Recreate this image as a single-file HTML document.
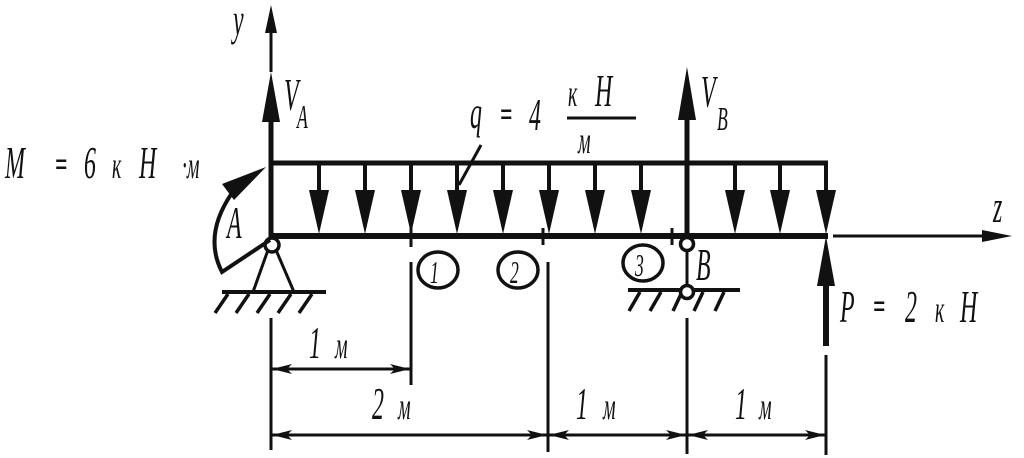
<!DOCTYPE html>
<html><head><meta charset="utf-8"><style>
html,body{margin:0;padding:0;background:#fff;}
svg{display:block;}
text{font-family:"Liberation Serif",serif;font-style:italic;fill:#111;}
</style></head><body>
<svg width="1024" height="458" viewBox="0 0 1024 458" xmlns="http://www.w3.org/2000/svg">
<defs>
<marker id="da" viewBox="0 0 20 10" refX="20" refY="5" markerWidth="20" markerHeight="10" markerUnits="userSpaceOnUse" orient="auto-start-reverse">
<path d="M0,0 L20,5 L0,10 L5,5 Z" fill="#111"/></marker>
</defs>
<g stroke="#111" fill="none">
<line x1="271" y1="28" x2="271" y2="72" stroke-width="3"/>
<polygon points="271,5 265,33 277,33" fill="#111" stroke="none"/>
<line x1="271" y1="110" x2="271" y2="240" stroke-width="5"/>
<polygon points="271,72 262,122 280,122" fill="#111" stroke="none"/>
<line x1="687" y1="110" x2="687" y2="240" stroke-width="5"/>
<polygon points="687,67 678,120 696,120" fill="#111" stroke="none"/>
<line x1="271" y1="163" x2="828" y2="163" stroke-width="5"/>
<line x1="826" y1="161" x2="826" y2="200" stroke-width="4"/>
<line x1="271" y1="236" x2="828" y2="236" stroke-width="6"/>
<line x1="411" y1="228" x2="411" y2="247" stroke-width="3"/>
<line x1="543" y1="228" x2="543" y2="245" stroke-width="3"/>
<line x1="672" y1="228" x2="672" y2="245" stroke-width="3"/>
<line x1="833" y1="236" x2="995" y2="236" stroke-width="3"/>
<polygon points="1012,236 982,230 982,242" fill="#111" stroke="none"/>
<line x1="826" y1="280" x2="826" y2="346" stroke-width="6"/>
<polygon points="826,236 817,286 835,286" fill="#111" stroke="none"/>
<line x1="268" y1="250" x2="253" y2="292" stroke-width="3"/>
<line x1="276" y1="250" x2="294" y2="292" stroke-width="3"/>
<line x1="222" y1="292" x2="326" y2="292" stroke-width="4"/>
<g stroke-width="3.5">
<line x1="228" y1="294" x2="215" y2="313"/><line x1="249" y1="294" x2="236" y2="313"/>
<line x1="270" y1="294" x2="257" y2="313"/><line x1="291" y1="294" x2="278" y2="313"/>
<line x1="312" y1="294" x2="299" y2="313"/>
</g>
<circle cx="272" cy="245" r="7" stroke-width="3.5" fill="#fff"/>
<line x1="687" y1="250" x2="687" y2="288" stroke-width="3"/>
<line x1="628" y1="290" x2="740" y2="290" stroke-width="4"/>
<g stroke-width="3.5">
<line x1="640" y1="292" x2="629" y2="311"/><line x1="661" y1="292" x2="650" y2="311"/>
<line x1="682" y1="292" x2="673" y2="311"/><line x1="703" y1="292" x2="694" y2="311"/>
<line x1="724" y1="292" x2="715" y2="311"/>
</g>
<circle cx="687" cy="244" r="6.5" stroke-width="3.5" fill="#fff"/>
<circle cx="687" cy="292" r="6.5" stroke-width="3.5" fill="#fff"/>
<path d="M270,240 L222,272 Q203,235 232,193" stroke-width="4"/>
<polygon points="266,167 222,184 234,200" fill="#111" stroke="none"/>
<line x1="481" y1="145" x2="459" y2="185" stroke-width="3"/>
<line x1="567" y1="118" x2="636" y2="118" stroke-width="3"/>
<ellipse cx="438" cy="270" rx="20" ry="18" stroke-width="3.5"/>
<ellipse cx="518" cy="270" rx="20" ry="18" stroke-width="3.5"/>
<ellipse cx="643" cy="263" rx="20" ry="18" stroke-width="3.5"/>
<g stroke-width="3">
<line x1="271" y1="318" x2="271" y2="450"/>
<line x1="411" y1="262" x2="411" y2="385"/>
<line x1="548" y1="262" x2="548" y2="452"/>
<line x1="687" y1="318" x2="687" y2="454"/>
<line x1="826" y1="355" x2="826" y2="455"/>
</g>
<g stroke-width="3">
<line x1="272" y1="369" x2="410" y2="369" marker-start="url(#da)" marker-end="url(#da)"/>
<line x1="272" y1="435" x2="547" y2="435" marker-start="url(#da)" marker-end="url(#da)"/>
<line x1="549" y1="435" x2="686" y2="435" marker-start="url(#da)" marker-end="url(#da)"/>
<line x1="688" y1="435" x2="825" y2="435" marker-start="url(#da)" marker-end="url(#da)"/>
</g>
</g>
<g fill="#111">
<g stroke="#111" stroke-width="4">
<line x1="319" y1="163" x2="319" y2="200"/><line x1="365" y1="163" x2="365" y2="200"/>
<line x1="411" y1="163" x2="411" y2="200"/><line x1="457" y1="163" x2="457" y2="200"/>
<line x1="503" y1="163" x2="503" y2="200"/><line x1="549" y1="163" x2="549" y2="200"/>
<line x1="595" y1="163" x2="595" y2="200"/><line x1="641" y1="163" x2="641" y2="200"/>
<line x1="735" y1="163" x2="735" y2="200"/><line x1="780" y1="163" x2="780" y2="200"/>
</g>
<polygon points="319,234 309,190 329,190"/><polygon points="365,234 355,190 375,190"/>
<polygon points="411,234 401,190 421,190"/><polygon points="457,234 447,190 467,190"/>
<polygon points="503,234 493,190 513,190"/><polygon points="549,234 539,190 559,190"/>
<polygon points="595,234 585,190 605,190"/><polygon points="641,234 631,190 651,190"/>
<polygon points="735,234 725,190 745,190"/><polygon points="780,234 770,190 790,190"/>
<polygon points="826,234 816,190 836,190"/>
</g>
<g font-size="46">
<text transform="translate(5,178) scale(0.52,1)">M</text>
<text transform="translate(55,176) scale(0.6,1)" font-style="normal" font-weight="bold" font-size="36">=</text>
<text transform="translate(84,178) scale(0.52,1)">6</text>
<text transform="translate(112,178) scale(0.52,1)" font-size="38">к</text>
<text transform="translate(139,178) scale(0.52,1)">Н</text>
<text transform="translate(182,178) scale(0.52,1)" font-size="38">·м</text>
<text transform="translate(233,35) scale(0.52,1)">y</text>
<text transform="translate(284,110) scale(0.52,1)">V</text>
<text transform="translate(297,128) scale(0.52,1)" font-size="34">A</text>
<text transform="translate(701,107) scale(0.52,1)">V</text>
<text transform="translate(717,130) scale(0.52,1)" font-size="34">B</text>
<text transform="translate(227,238) scale(0.52,1)">A</text>
<text transform="translate(696,280) scale(0.52,1)">B</text>
<text transform="translate(470,128) scale(0.52,1)">q</text>
<text transform="translate(500,126) scale(0.6,1)" font-style="normal" font-weight="bold" font-size="36">=</text>
<text transform="translate(529,130) scale(0.52,1)">4</text>
<text transform="translate(568,106) scale(0.52,1)" font-size="38">к</text>
<text transform="translate(595,106) scale(0.52,1)">Н</text>
<text transform="translate(578,153) scale(0.52,1)" font-size="38">м</text>
<text transform="translate(840,322) scale(0.52,1)">P</text>
<text transform="translate(873,318) scale(0.6,1)" font-style="normal" font-weight="bold" font-size="36">=</text>
<text transform="translate(905,322) scale(0.52,1)">2</text>
<text transform="translate(935,322) scale(0.52,1)" font-size="38">к</text>
<text transform="translate(960,322) scale(0.52,1)">Н</text>
<text transform="translate(993,222) scale(0.52,1)">z</text>
<text transform="translate(309,358) scale(0.52,1)">1</text>
<text transform="translate(335,358) scale(0.52,1)" font-size="38">м</text>
<text transform="translate(372,419) scale(0.52,1)">2</text>
<text transform="translate(398,419) scale(0.52,1)" font-size="38">м</text>
<text transform="translate(576,419) scale(0.52,1)">1</text>
<text transform="translate(603,419) scale(0.52,1)" font-size="38">м</text>
<text transform="translate(735,419) scale(0.52,1)">1</text>
<text transform="translate(759,419) scale(0.52,1)" font-size="38">м</text>
<text transform="translate(430,283) scale(0.55,1)" font-size="32">1</text>
<text transform="translate(510,283) scale(0.55,1)" font-size="32">2</text>
<text transform="translate(635,276) scale(0.55,1)" font-size="32">3</text>
</g>
</svg>
</body></html>
